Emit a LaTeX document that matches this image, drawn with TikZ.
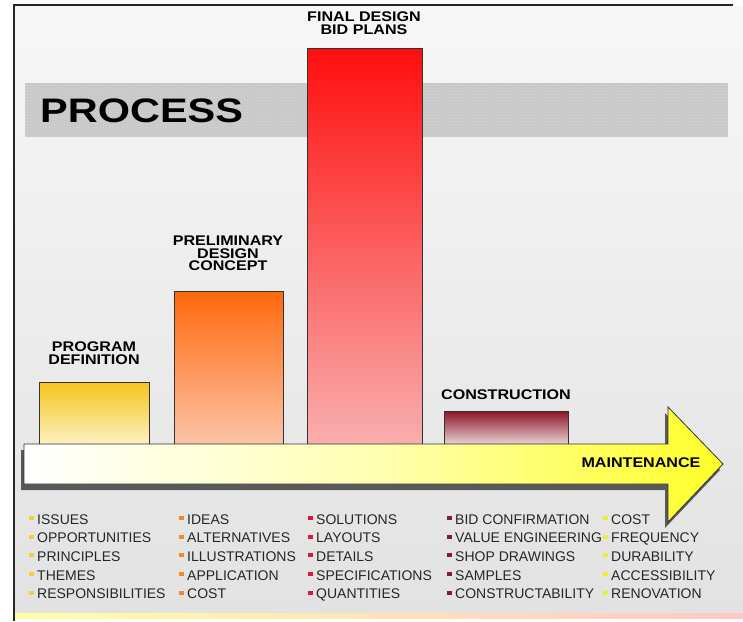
\documentclass[tikz,border=0pt]{standalone}
\usepackage{fontspec}
\setmainfont{Liberation Sans}
\newfontfamily\headfont[FakeStretch=1.15]{Liberation Sans}
\newfontfamily\titlefont[FakeStretch=1.22]{Liberation Sans}
\usetikzlibrary{patterns}
\definecolor{bgtop}{RGB}{247,247,247}
\definecolor{bgbot}{RGB}{226,226,226}
\definecolor{bandclr}{RGB}{200,200,200}
\definecolor{progtop}{RGB}{246,196,28}
\definecolor{progbot}{RGB}{253,242,200}
\definecolor{prelimtop}{RGB}{255,104,12}
\definecolor{prelimbot}{RGB}{252,196,168}
\definecolor{finaltop}{RGB}{255,14,14}
\definecolor{finalbot}{RGB}{249,175,175}
\definecolor{consttop}{RGB}{140,20,40}
\definecolor{constbot}{RGB}{236,220,220}
\definecolor{arrowend}{RGB}{255,255,40}
\definecolor{dotprog}{RGB}{240,208,64}
\definecolor{dotprelim}{RGB}{240,138,48}
\definecolor{dotfinal}{RGB}{224,20,60}
\definecolor{dotconst}{RGB}{140,24,48}
\definecolor{dotmaint}{RGB}{232,240,48}

\begin{document}
\begin{tikzpicture}[x=1pt,y=-1pt,
            bar/.style={draw=black!80, line width=0.8pt},
            head/.style={font=\headfont\bfseries\fontsize{14}{12.5}\selectfont, align=center, inner sep=0pt, anchor=north},
            item/.style={font=\fontsize{14}{14}\selectfont, text=black!85, inner sep=0pt, anchor=base west}]
            \useasboundingbox (0,0) rectangle (743,621);
            \fill[white] (0,0) rectangle (743,621);
            \shade[top color=bgtop, bottom color=bgbot] (15,6) rectangle (743,612);
            \shade[left color=yellow!35, right color=red!22] (15,613) rectangle (743,618);
            \draw[line width=1.5pt, black!85] (14,621) -- (14,5) -- (733,5);

            \fill[bandclr] (25,83) rectangle (728,137);
            \fill[pattern=crosshatch dots, pattern color=white!70!gray] (25,83) rectangle (728,137);
            \node[font=\titlefont\bfseries\fontsize{34}{34}\selectfont, inner sep=0pt, anchor=base west] (process) at (40,122) {PROCESS};

            \draw[bar, top color=progtop, bottom color=progbot] (39,382) rectangle (149,446);
            \draw[bar, top color=prelimtop, bottom color=prelimbot] (174,291) rectangle (283,446);
            \draw[bar, top color=finaltop, bottom color=finalbot] (307,48) rectangle (422,446);
            \draw[bar, top color=consttop, bottom color=constbot] (444,411) rectangle (568,446);

            \node[head] (program) at (94,342) {PROGRAM\\DEFINITION};
            \node[head] (prelim) at (228,236) {PRELIMINARY\\DESIGN\\CONCEPT};
            \node[head] (final) at (364,12) {FINAL DESIGN\\BID PLANS};
            \node[head] (construct) at (506,390) {CONSTRUCTION};

            \fill[black!65] (21,450) -- (665,450) -- (665,413) -- (720,470) -- (665,528) -- (665,490) -- (21,490) -- cycle;
            \draw[black!80, line width=0.8pt, left color=white, right color=arrowend, middle color=yellow!30]
                (24,444) -- (668,444) -- (668,407) -- (723,464) -- (668,522) -- (668,484) -- (24,484) -- cycle;
            \node[head] (maint) at (641,458) {MAINTENANCE};

            \foreach \tx/\clr/\col [count=\c] in {
                37/dotprog/{ISSUES,OPPORTUNITIES,PRINCIPLES,THEMES,RESPONSIBILITIES},
                187/dotprelim/{IDEAS,ALTERNATIVES,ILLUSTRATIONS,APPLICATION,COST},
                316/dotfinal/{SOLUTIONS,LAYOUTS,DETAILS,SPECIFICATIONS,QUANTITIES},
                455/dotconst/{BID CONFIRMATION,VALUE ENGINEERING,SHOP DRAWINGS,SAMPLES,CONSTRUCTABILITY},
                611/dotmaint/{COST,FREQUENCY,DURABILITY,ACCESSIBILITY,RENOVATION}}
            {
                \foreach \w [count=\r] in \col
                {
                    \pgfmathsetmacro{\yb}{524+18.7*(\r-1)}
                    \fill[\clr] ({\tx-8},{\yb-8}) rectangle ({\tx-3},{\yb-4});
                    \node[item] (item\c-\r) at (\tx,\yb) {\w};
                }
            }
        \end{tikzpicture}
\end{document}
